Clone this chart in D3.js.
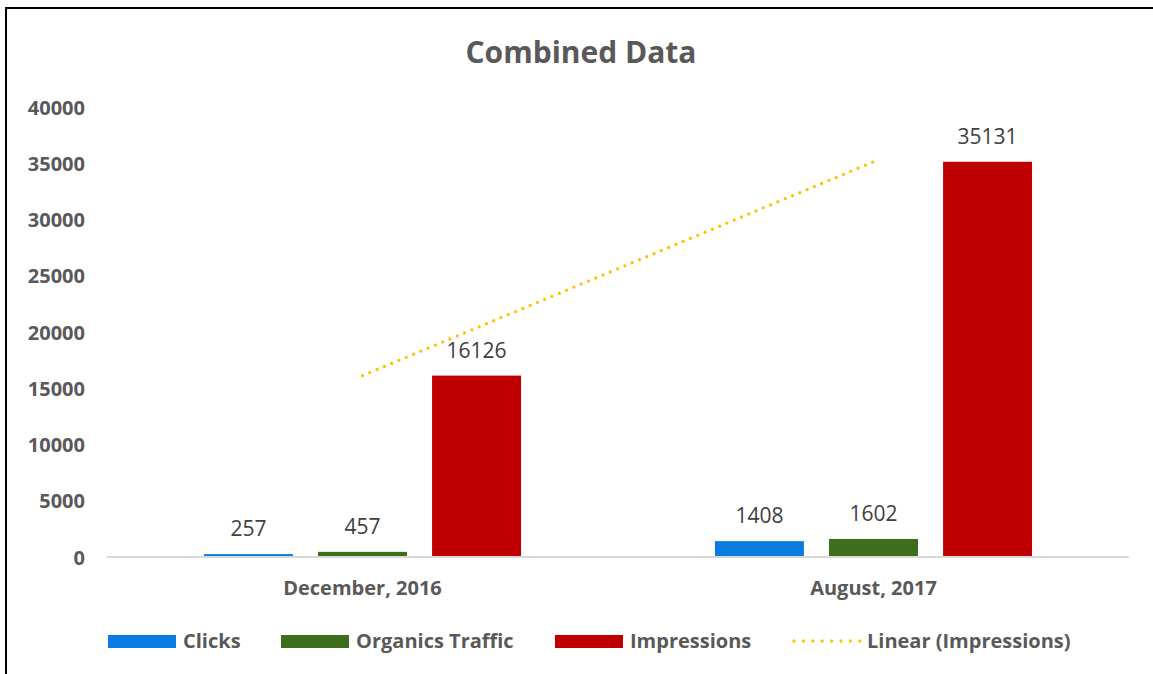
<!DOCTYPE html>
<html>
<head>
<meta charset="utf-8">
<script src="https://cdn.jsdelivr.net/npm/d3@7"></script>
<style>
  body { margin: 0; background: #fff; }
  svg { display: block; font-family: "Open Sans", sans-serif; }
</style>
</head>
<body>
<div id="container"></div>
<script>
// chart data
const categories = ["December, 2016", "August, 2017"];
const seriesNames = ["Clicks", "Organics Traffic", "Impressions"];
const clicks = [257, 1408];
const organics = [457, 1602];
const impressions = [16126, 35131];
const yTicks = [0, 5000, 10000, 15000, 20000, 25000, 30000, 35000, 40000];

const colors = {
  "Clicks": "#0A7BE0",
  "Organics Traffic": "#3E6E1C",
  "Impressions": "#C00000"
};
const trendColor = "#FFC000";

const W = 1153, H = 674;
const margin = { top: 107, right: 24, bottom: 117, left: 107 };
const width = W - margin.left - margin.right;
const height = H - margin.top - margin.bottom;

const svg = d3.select("#container").append("svg")
  .attr("width", W)
  .attr("height", H);

// chart frame (cropped screenshot: only left and top edges visible)
svg.append("line").attr("x1", 6).attr("x2", 6).attr("y1", 8).attr("y2", H)
  .attr("stroke", "#000").attr("stroke-width", 2);
svg.append("line").attr("x1", 5).attr("x2", W).attr("y1", 8).attr("y2", 8)
  .attr("stroke", "#000").attr("stroke-width", 2);

// title
svg.append("text")
  .attr("x", 581)
  .attr("y", 63)
  .attr("text-anchor", "middle")
  .style("font-size", "30px")
  .style("font-weight", "bold")
  .style("fill", "#595959")
  .text("Combined Data");

const g = svg.append("g")
  .attr("transform", `translate(${margin.left}, ${margin.top})`);

const x0 = d3.scaleBand()
  .domain(categories)
  .range([0, width]);

const x1 = d3.scaleBand()
  .domain(seriesNames)
  .range([0, x0.bandwidth()])
  .paddingInner(0.22)
  .paddingOuter(0.85);

const y = d3.scaleLinear()
  .domain([0, 40000])
  .range([height, 0]);

// y axis labels (no gridlines, no axis line)
const yAxis = g.append("g")
  .call(d3.axisLeft(y).tickValues(yTicks).tickSize(0).tickPadding(22).tickFormat(d => d));
yAxis.select(".domain").remove();
yAxis.selectAll("text")
  .style("font-family", "'Open Sans', sans-serif")
  .style("font-size", "20px")
  .style("font-weight", "bold")
  .style("fill", "#595959")
  .attr("dy", "0.35em");

// bars
const rows = categories.map((c, i) => ({
  category: c,
  values: [
    { name: "Clicks", value: clicks[i] },
    { name: "Organics Traffic", value: organics[i] },
    { name: "Impressions", value: impressions[i] }
  ]
}));

const groups = g.selectAll(".cat")
  .data(rows)
  .join("g")
  .attr("class", "cat")
  .attr("transform", d => `translate(${x0(d.category)}, 0)`);

groups.selectAll("rect")
  .data(d => d.values)
  .join("rect")
  .attr("x", d => x1(d.name))
  .attr("y", d => y(d.value))
  .attr("width", x1.bandwidth())
  .attr("height", d => height - y(d.value))
  .attr("fill", d => colors[d.name]);

groups.selectAll(".lbl")
  .data(d => d.values)
  .join("text")
  .attr("class", "lbl")
  .attr("x", d => x1(d.name) + x1.bandwidth() / 2)
  .attr("y", d => y(d.value) - 18)
  .attr("text-anchor", "middle")
  .style("font-size", "21px")
  .style("fill", "#404040")
  .text(d => d.value);

// x axis line
g.append("line")
  .attr("x1", 0).attr("x2", width)
  .attr("y1", height).attr("y2", height)
  .attr("stroke", "#D9D9D9")
  .attr("stroke-width", 2);

// category labels
g.selectAll(".catlbl")
  .data(categories)
  .join("text")
  .attr("class", "catlbl")
  .attr("x", d => x0(d) + x0.bandwidth() / 2)
  .attr("y", height + 38)
  .attr("text-anchor", "middle")
  .style("font-size", "20px")
  .style("font-weight", "bold")
  .style("fill", "#595959")
  .text(d => d);

// linear trendline for impressions (least squares over category index)
const n = impressions.length;
const xs = d3.range(n);
const mx = d3.mean(xs), my = d3.mean(impressions);
const slope = d3.sum(xs, (xi, i) => (xi - mx) * (impressions[i] - my)) / d3.sum(xs, xi => (xi - mx) ** 2);
const intercept = my - slope * mx;
const trend = xs.map(i => ({ cx: x0(categories[i]) + x0.bandwidth() / 2, v: intercept + slope * i }));

g.append("path")
  .datum(trend)
  .attr("fill", "none")
  .attr("stroke", trendColor)
  .attr("stroke-width", 3.3)
  .attr("stroke-linecap", "round")
  .attr("stroke-dasharray", "0 7.9")
  .attr("d", d3.line().x(d => d.cx).y(d => y(d.v)));

// legend
const legendItems = [
  { name: "Clicks", x: 108, type: "rect" },
  { name: "Organics Traffic", x: 281, type: "rect" },
  { name: "Impressions", x: 555, type: "rect" },
  { name: "Linear (Impressions)", x: 792, type: "line" }
];
const legend = svg.append("g").attr("transform", "translate(0, 641)");
legendItems.forEach(it => {
  if (it.type === "rect") {
    legend.append("rect")
      .attr("x", it.x).attr("y", -6)
      .attr("width", 68).attr("height", 13)
      .attr("fill", colors[it.name]);
  } else {
    legend.append("line")
      .attr("x1", it.x + 2).attr("x2", it.x + 68)
      .attr("y1", 0).attr("y2", 0)
      .attr("stroke", trendColor)
      .attr("stroke-width", 3.3)
      .attr("stroke-linecap", "round")
      .attr("stroke-dasharray", "0 9.4");
  }
  legend.append("text")
    .attr("x", it.x + 75)
    .attr("y", 0)
    .attr("dy", "0.35em")
    .style("font-size", "20px")
    .style("font-weight", "bold")
    .style("fill", "#595959")
    .text(it.name);
});
</script>
</body>
</html>
